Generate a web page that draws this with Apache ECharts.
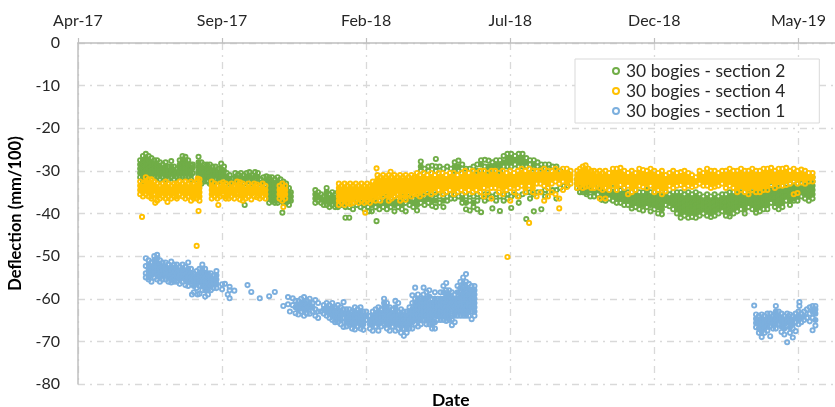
<!DOCTYPE html>
<html>
<head>
<meta charset="utf-8">
<script src="https://cdn.jsdelivr.net/npm/echarts@6/dist/echarts.min.js"></script>
<style>
html, body { margin: 0; padding: 0; background: #fff; }
#chart { width: 835px; height: 407px; }
</style>
</head>
<body>
<div id="chart"></div>
<script>
// x is days since 1 Apr 2017, each row is [day, reading, reading, ...]
const xTickLabels = ['Apr-17', 'Sep-17', 'Feb-18', 'Jul-18', 'Dec-18', 'May-19']
const seriesNames = ['30 bogies - section 2', '30 bogies - section 4', '30 bogies - section 1']

const section2 = [
  [66,-27.5,-28.5,-29.5,-30.5,-31.5],[69,-26.5,-27.5,-28.5,-29.5,-30.5,-31.5,-32.5],[72,-26,-27,-28,-29,-30,-31,-32],[75,-26.5,-27.5,-28.5,-29.5,-30.5,-31.5],
  [78,-27,-28,-29,-30,-31,-32],[81,-27.5,-28.5,-29.5,-30.5,-31.5],[84,-27.5,-28.5,-29.5,-30.5,-31.5],[87,-28,-29,-30,-31,-32],[90,-28.5,-29.5,-30.5,-31.5],
  [93,-28,-29,-30,-31,-32],[96,-29,-30,-31,-32],[99,-27.7,-29,-29.8,-30.6,-31.5],[102,-29,-30,-31,-32],[105,-29.5,-30.5,-31.5],[108,-27.5,-28.5,-29.5,-30.5,-31.5],
  [111,-26.5,-27.5,-28.5,-29.5,-30.5,-31.5],[114,-26.7,-27.5,-28.5,-29.5,-30.5,-31.5],[117,-27.5,-28.5,-29.5,-30.5,-31.5],[120,-28.5,-30,-31,-32],[122,-28.5,-29.2,-30.5],
  [128,-26.7,-28,-29,-30,-31,-32],[131,-28,-29,-30,-31,-32,-33],[134,-28.5,-29.5,-30.5,-31.5,-32.5],[137,-28.5,-29.5,-30.5,-31.5,-32.5],[140,-28.5,-29.5,-30.5,-31.5,-33],
  [143,-29,-30,-31,-32,-33],[146,-29,-30,-31,-32],[149,-29.5,-30.5,-31.5,-32.5],[152,-28.3,-29.5,-30.5,-31.5,-32.5],[155,-29,-30,-31,-32],[158,-30.5,-31.5,-32.5],
  [161,-31,-32,-33],[164,-31.8,-32.8],[167,-30.5,-31.5,-32.5],[170,-30.8,-31.8,-32.8],[173,-30.5,-31.5,-32.5],[176,-31,-32,-33],[179,-30.5,-31.5,-32.5],[182,-30.3,-31.3,-32.3],
  [185,-31,-32,-33],[188,-30.3,-31.3,-32.3],[191,-30.5,-31.5,-32.5],[194,-32,-33],[197,-31.5,-32.5],[200,-31.3,-32.3,-33.3],[203,-31.5,-32.5,-33.5,-34.5,-35.5,-36.5,-37.5],
  [206,-31.5,-32.5,-33.5,-34.5,-35.5,-36.5,-37],[209,-32,-33,-34,-35,-36,-37,-37.5],[212,-31.5,-32.5,-33.5,-34.5,-35.5,-36.5,-37.5],[215,-32,-33,-34,-35,-36,-37],
  [218,-32.5,-33.5,-34.5,-35.5,-36.5,-37.5],[221,-33,-34,-35,-36,-37,-37.5],[224,-34,-35,-36,-37,-38],[226,-35,-36,-37],
  [177,-38],[217,-39.8],[284,-41],[288,-41],[317,-41.8],[309,-39.5],

  [252,-34.5,-35.5,-36.5,-37.5],[255,-35,-36,-37],[258,-35.5,-36.5,-37.5],[261,-36,-37,-38],[264,-34,-35,-36,-37,-38],[267,-35.5,-36.5,-37.5,-38.5],[270,-35,-36,-37,-38],
  [273,-35.5,-36.5,-37.5,-38.5],[276,-35,-36,-37,-38,-38.5],[280,-37,-38],[284,-37.5,-38.5],[288,-37,-38.5],[292,-37.5,-39],[296,-37,-38],[300,-37.5,-38.5],[304,-38,-39],[308,-37.5,-38.5],
  [312,-37,-38,-39.5],[316,-36.5,-37.5,-38.5],[320,-37,-38,-39],[324,-36.5,-37.5,-38.5],[328,-36,-37,-38,-39],[332,-36.5,-37.5,-38.5],[336,-36,-37,-38,-39.5],[340,-36.5,-37.5,-38.5],
  [344,-36,-37,-38,-39],[348,-36.5,-37.5,-39.5],[352,-36,-37,-38],[356,-36.5,-37.5,-38.5],[360,-36,-37,-38,-39.3],[364,-35.5,-36.5,-37.5],[364,-27.8,-29,-30],
  [368,-29.5,-36,-37,-38],[372,-29,-30,-35.5,-36.5,-37.5],[376,-28.8,-36,-37,-38.2],[380,-27.2,-29,-30,-35.5,-37,-38.5],[384,-29,-36,-37.5],[388,-29.5,-35.5,-37,-38.5],
  [392,-29,-36,-37],[396,-29.5,-35.5,-36.5],[400,-28,-29,-30,-35.5,-36.5],[404,-27.6,-29,-30,-36],[408,-28.5,-29.5,-35.5,-36.5,-37.5],[412,-29.5,-36,-37.5,-39],[416,-29.5,-35.5,-37,-39.3],
  [420,-29,-30,-36,-37.5,-38.5],[424,-28.5,-30,-35.5,-37,-39],[428,-27.5,-28.5,-30,-36,-39.7],[432,-27.4,-29,-30,-35.5,-37],[436,-27.6,-29,-30,-35.5,-36.5],[440,-28,-29,-30,-36,-38.8],
  [444,-27.5,-28.7,-30,-35.5,-37],[448,-27.5,-28.7,-30,-36,-39.4],[452,-26.5,-28,-29,-35.5,-37],[456,-26,-27,-28,-29,-35.5,-36.5],[460,-26,-27,-28,-29,-36,-38.7],[464,-26.5,-27.5,-28.5,-35.5],
  [468,-26,-27,-28,-29,-36,-37.5],[472,-26,-27,-28,-29,-35.5],[476,-27,-28,-29,-35,-41.3],[480,-27.5,-28.5,-35,-36.5],[484,-27.5,-28.5,-29.5,-35.5,-39.5],[488,-28,-29,-35],
  [492,-28.5,-29.5,-35,-39],[496,-28.5,-29.5,-34.5,-36],[500,-28.5,-29.5,-35],[504,-29,-34.5],[508,-29,-30,-34.5,-36.5],[512,-30,-34],[516,-30.5,-33.5],[520,-30.5,-33.5],

  [530,-32,-33,-34],[533,-31,-33,-34,-35],[536,-33.5,-34.5,-35],[540,-33,-34,-35,-35.5],[544,-33.5,-34.5,-36],[548,-34,-35,-36],[552,-33.5,-34.5,-35.5],[556,-34,-35,-36,-36.8],
  [560,-34,-35,-36,-37],[564,-34.5,-35.5,-36.5],[568,-34,-35,-36,-37],[572,-34.5,-35.5,-36.5,-37.5],[576,-34.5,-35.5,-36.5,-37.5],[580,-34,-35,-36,-37,-38],[584,-35,-36,-37,-38],
  [588,-35,-36,-37,-38,-38.8],[592,-34.5,-35.5,-36.5,-37.5,-38.5],[596,-35,-36,-37,-38,-39],[600,-35,-36,-37,-38,-39.3],[604,-34.5,-35.5,-36.5,-37.5,-38.5],[608,-35,-36,-37,-38,-39.5],
  [612,-35,-36,-37,-38,-39],[616,-34.5,-35.5,-36.5,-37.5,-38.5,-40],[620,-35,-36,-37,-38,-39,-40.2],[624,-35,-36,-37,-38],[628,-35.5,-36.5,-37.5,-38.3],[632,-35,-36,-37,-38,-39],
  [636,-35,-36,-37,-38,-39,-40],[640,-35,-36,-37,-38,-39,-40,-41],[644,-35.5,-36.5,-37.5,-38.5,-39.5,-40.5],[648,-35,-36,-37,-38,-39,-40,-41],[652,-35.5,-36.5,-37.5,-38.5,-39.5,-40.8],
  [656,-35,-36,-37,-38,-39,-40,-41],[660,-35.5,-36.5,-37.5,-38.5,-39.5,-40.5],[664,-36,-37,-38,-39,-40],[668,-35.5,-36.5,-37.5,-38.5,-39.5,-40.5],[672,-36,-37,-38,-39,-40,-40.8],
  [676,-35.5,-36.5,-37.5,-38.5,-39.5,-40.5],[680,-36,-37,-38,-39,-40],[684,-35.5,-36.5,-37.5,-38.5,-39.5],[688,-35.5,-36.5,-37.5,-38.5,-39.5,-40.5],[692,-35,-36,-37,-38,-39,-40,-40.7],
  [696,-35,-36,-37,-38,-39,-40],[700,-34.5,-35.5,-36.5,-37.5,-38.5,-39.5],[704,-35,-36,-37,-38,-39],[708,-35,-36,-37,-38,-39,-40],[712,-34.5,-35.5,-36.5,-37.5,-38.5],[716,-35,-36,-37,-38,-39],
  [720,-34,-35,-36,-37,-38,-39,-39.8],[724,-34.5,-35.5,-36.5,-37.5,-38.5,-39.5],[728,-34,-35,-36,-37,-38,-39],[732,-34,-35,-36,-37,-38,-39],[736,-33.5,-34.5,-35.5,-36.5,-37.5],[740,-33.5,-34.5,-35.5,-36.5,-37.5,-38.5],
  [744,-33,-34,-35,-36,-37,-38,-39],[748,-33.5,-34.5,-35.5,-36.5,-37.5,-38.5],[752,-33,-34,-35,-36,-37],[756,-33,-34,-35,-36,-37,-38],[760,-32.5,-33.5,-34.5,-35.5,-36.5,-37],[764,-33,-34,-35,-36,-37],
  [768,-33,-34,-35,-36],[772,-32.5,-33.5,-34.5,-35.5,-36.5],[776,-32,-33,-34,-35,-36,-37],[780,-31.5,-32.5,-33.5,-34.5,-35.5,-36.5]
]

const section4 = [
  [66,-32.5,-33.5,-34.5,-35.5],[69,-33,-34,-35,-36],[72,-31.5,-32.5,-33.5,-34.5,-35.5],[75,-32,-33,-34,-35,-36],[78,-32,-33,-34,-35,-36,-36.5],[81,-32.5,-33.5,-34.5,-35.5],
  [84,-33,-34,-35,-36,-37],[87,-33.5,-34.5,-35.5,-36.5],[90,-33,-34,-35,-36],[93,-32.5,-33.5,-34.5,-35.5,-36.5],[96,-33,-34,-35,-36],[99,-33.5,-34.5,-35.5,-36.5],[102,-33,-34,-35,-36],
  [105,-33,-34,-35,-36,-36.5],[108,-32.5,-33.5,-34.5,-35.5],[111,-33,-34,-35,-36],[114,-32.5,-33.5,-34.5,-35.5,-36.5],[117,-33,-34,-35,-36],[120,-32.5,-33.5,-34.5,-35.5,-37],
  [123,-33,-34,-35,-36,-36.5],[126,-32.5,-33.5,-34.5,-35.5,-36.5],[129,-32,-33,-34,-35,-36,-37],
  [142,-32.5,-33.5,-34.5,-35.5,-36.5],[145,-33,-34,-35,-36],[148,-33.5,-34.5,-35.5,-36.5],[151,-33,-34,-35,-36],[154,-32.7,-33.7,-34.7,-35.7],
  [157,-33,-34,-35,-36,-36.5],[160,-33.5,-34.5,-35.5,-36.5],[163,-33,-34,-35,-36],[166,-33.5,-34.5,-35.5,-36.5],[169,-32.5,-33.5,-34.5,-35.5],[172,-32.7,-33.7,-34.7,-35.7,-36.7],
  [175,-33,-34,-35,-36,-37],[178,-33.5,-34.5,-35.5,-36.5],[181,-33,-34,-35,-36],[184,-33.5,-34.5,-35.5,-36.7],[187,-33,-34,-35,-36],[190,-33.2,-34.2,-35.2,-36.2],[193,-33.5,-34.5,-35.5,-36.5],
  [196,-33,-34,-35,-36],[199,-33.5,-34.5,-35.5,-36.5],
  [214,-33.5,-34.5,-35.5,-36.5],[217,-33,-34,-35,-36,-37],[220,-33.5,-34.5,-35.5,-36.5],
  [68,-40.8],[128,-39.4],[82,-37.5],[95,-37.3],[149,-38],[218,-38.5],[127,-31.8],[126,-47.6],[456,-50.2],[305,-39.8],[317,-29.4],[332,-30.2],

  [277,-33,-34,-35,-36,-37,-38],[280,-33.5,-34.5,-35.5,-36.5,-37.5],[283,-33,-34,-35,-36,-37,-38],[286,-33.5,-34.5,-35.5,-36.5,-37.5],[289,-33,-34,-35,-36,-37,-37.8],[292,-33.5,-34.5,-35.5,-36.5,-37.5],
  [295,-33,-34,-35,-36,-37],[298,-33.5,-34.5,-35.5,-36.5,-37.5],[301,-33,-34,-35,-36,-37],[304,-33.5,-34.5,-35.5,-36.5,-37.5],[307,-33,-34,-35,-36,-37],[310,-33.5,-34.5,-35.5,-36.5,-37.5],
  [313,-32.5,-33.5,-34.5,-35.5,-36.5],[316,-33,-34,-35,-36,-37],[318,-31,-32,-33,-34,-35,-36],[321,-31.5,-32.5,-33.5,-34.5,-35.5,-37],[324,-31,-32,-33,-34,-35,-36],
  [327,-31.5,-32.5,-33.5,-34.5,-35.5],[330,-31,-32,-33,-34,-35,-36,-37],[333,-31.5,-32.5,-33.5,-34.5,-35.5,-36.5],[336,-31,-32,-33,-34,-35,-36],[339,-31.5,-32.5,-33.5,-34.5,-35.5],
  [342,-31,-32,-33,-34,-35,-36,-37],[345,-31.5,-32.5,-33.5,-34.5,-35.5],[348,-31,-32,-33,-34,-35,-36,-36.8],[351,-31.5,-32.5,-33.5,-34.5,-35.5],[354,-31,-32,-33,-34,-35,-36],[357,-31.5,-32.5,-33.5,-34.5,-35.5],
  [360,-30.5,-31.5,-32.5,-33.5,-34.5,-35.5],[363,-31,-32,-33,-34,-35,-36],[367,-30.5,-31.5,-32.5,-33.5,-34.5,-35.5],[371,-31,-32,-33,-34,-35],[375,-30.5,-31.5,-32.5,-33.5,-34.5,-35.5],
  [379,-31,-32,-33,-34,-35],[383,-30.5,-31.5,-32.5,-33.5,-34.5],[387,-30.5,-31.5,-32.5,-33.5,-34.5,-35.5],[391,-31,-32,-33,-34,-35],[395,-30.5,-31.5,-32.5,-33.5,-34.5],[399,-30.5,-31.5,-32.5,-33.5,-34.5,-35.5],
  [403,-31,-32,-33,-34,-35],[407,-30.5,-31.5,-32.5,-33.5,-34.5],[411,-30,-31,-32,-33,-34,-35],[415,-30.5,-31.5,-32.5,-33.5,-34.5],[419,-30,-31,-32,-33,-34,-35],[423,-30.5,-31.5,-32.5,-33.5,-34.5],
  [427,-30,-31,-32,-33,-34,-35],[431,-30,-31,-32,-33,-34,-36],[435,-30.5,-31.5,-32.5,-33.5,-35],[439,-30,-31,-32,-33,-34,-36.5],[443,-30,-31,-32,-33,-34],[447,-30.5,-31.5,-32.5,-33.5,-35],
  [451,-30,-31,-32,-33,-34,-35.5],[455,-30.5,-31.5,-32.5,-33.5,-34.5],[459,-30,-31,-32,-33,-34,-37],[463,-30.5,-31.5,-32.5,-33.5,-35],[467,-30,-31,-32,-33,-34,-36],[471,-29.5,-30.5,-31.5,-32.5,-33.5],
  [475,-30,-31,-32,-33,-34,-35],[479,-29.5,-30.5,-31.5,-32.5,-33.5,-42.2],[483,-30,-31,-32,-33,-34,-35],[487,-30,-31,-32,-33,-36],[491,-30,-31,-32,-33,-35],[495,-29.5,-30.5,-31.5,-32.5,-33.5,-37],
  [499,-30,-31,-32,-33,-34,-36],[503,-30,-31,-32,-33,-35],[507,-29.5,-30.5,-31.5,-32.5,-35.5],[511,-30,-31,-32,-33,-36.5,-38.8],[515,-29.5,-30.5,-31.5,-32.5,-34.5],[519,-29.5,-30.5,-31.5,-32.5,-33.8],[523,-30,-31,-32,-33],

  [530,-30,-31,-32,-33,-34],[533,-29.5,-30.5,-31.5,-32.5,-33.5],[536,-29,-30,-31,-32,-33,-34],[539,-28.7,-29.7,-30.7,-31.7,-32.7,-33.7],[542,-29.5,-30.5,-31.5,-32.5,-33.5],[545,-30,-31,-32,-33,-34],
  [548,-30,-31,-32,-33,-34],[551,-30.5,-31.5,-32.5,-33.5],[554,-30,-31,-32,-33,-34,-36.5],[557,-30.5,-31.5,-32.5,-33.5,-34.5],[560,-30,-31,-32,-33,-34,-36.5],[564,-30.5,-31.5,-32.5,-33.5,-34.5],
  [568,-29.5,-30.5,-31.5,-32.5,-33.5],[572,-29.5,-30.5,-31.5,-32.5,-33.5,-34.5],[576,-29.3,-30.3,-31.3,-32.3,-33.3],[580,-30,-31,-32,-33,-34],[584,-30.5,-31.5,-32.5,-33.5,-35.5],[588,-30,-31,-32,-33,-34,-35],
  [592,-30.5,-31.5,-32.5,-33.5,-34.5],[596,-29.5,-30.5,-31.5,-32.5,-33.5],[600,-29.8,-30.8,-31.8,-32.8,-33.8],[604,-30,-31,-32,-33,-34],[608,-29.5,-30.5,-31.5,-32.5,-33.5],[612,-30,-31,-32,-33,-34,-35],
  [616,-30.5,-31.5,-32.5,-33.5,-34.5],[620,-30,-31,-32,-33,-34,-35.5],[624,-31,-32,-33,-34,-34.8],[628,-30.5,-31.5,-32.5,-33.5],[632,-30,-31,-32,-33,-34],[636,-30.5,-31.5,-32.5,-33.5],[640,-30.3,-31.3,-32.3,-33.3],
  [644,-30,-31,-32,-33,-34],[648,-30.5,-31.5,-32.5,-33.5],[652,-31,-32,-33,-33.8],[656,-31.5,-32.5,-33.5],[660,-30,-31,-32,-33],[664,-30.5,-31.5,-32.5,-33.5],[668,-29.5,-30.5,-31.5,-32.5,-33.5],
  [672,-30,-31,-32,-33,-34],[676,-30,-31,-32,-33,-33.7],[680,-30.5,-31.5,-32.5,-33.5],[684,-30,-31,-32,-33],[688,-30,-31,-32,-33,-34],[692,-29.5,-30.5,-31.5,-32.5,-33.5],[696,-30,-31,-32,-33,-34],
  [700,-30,-31,-32,-33,-34,-35],[704,-29.5,-30.5,-31.5,-32.5,-33.5,-34.5],[708,-30,-31,-32,-33,-34,-35],[712,-30,-31,-32,-33,-34,-35.5],[716,-29.5,-30.5,-31.5,-32.5,-33.5,-34.5],[720,-30,-31,-32,-33,-34,-35],
  [724,-30,-31,-32,-33,-34,-35],[728,-29.5,-30.5,-31.5,-32.5,-33.5,-34.5],[732,-29.5,-30.5,-31.5,-32.5,-33.5,-34.5],[736,-29.3,-30.3,-31.3,-32.3,-33.3],[740,-30,-31,-32,-33,-34],[744,-29.5,-30.5,-31.5,-32.5,-33.5],
  [748,-29.5,-30.5,-31.5,-32.5,-33.5],[752,-29.3,-30.3,-31.3,-32.3,-33.3],[756,-30,-31,-32,-33],[760,-29.5,-30.5,-31.5,-32.5,-35.5],[764,-30,-31,-32,-33,-35.2],[768,-29.7,-30.7,-31.7,-32.7],[772,-30,-31,-32,-33],
  [776,-30.5,-31.5,-32.5],[780,-30.5,-31.5,-32.5]
]

const section1 = [
  [72,-50.5,-52.3,-54,-55],[75,-51,-52,-53,-54,-55,-55.5],[78,-51.5,-52.5,-53.5,-54.5,-56],[81,-50,-51,-52,-53,-54,-55],[84,-49.7,-50.5,-51.5,-52.5,-53.5,-54.5,-55.5],[87,-51,-52,-53,-54,-55,-56],
  [90,-51.5,-52.5,-53.5,-54.5,-55.5],[93,-51.5,-52.5,-53.5,-54.5,-55.5],[96,-52,-53,-54,-55,-56],[99,-51.3,-52.5,-53.5,-54.5,-55.5,-56.2],[102,-52,-53,-54,-55,-56],[105,-52,-53,-54,-55,-56],
  [108,-52.5,-53.5,-54.5,-55.5,-56.5],[111,-52,-53,-54,-55,-56],[114,-52.5,-53.5,-54.5,-55.5,-56.8],[117,-51.5,-53,-54,-55,-56,-57],[120,-53,-54,-55,-56],[123,-54,-55,-56,-57,-58.5],
  [126,-53.5,-54.5,-55.5,-56.5,-57.5],[129,-53,-54,-55,-56,-57,-58.8],[132,-52,-53,-54,-55,-56,-57,-58],[135,-53,-54,-55,-56,-57,-58,-59.5],[138,-54,-55,-56,-57,-58,-59],[141,-54,-55,-56,-57,-58],
  [144,-54.5,-55.5,-56.5,-57.5],[147,-53.5,-54.5,-55.5,-56.5,-57.5],[121,-59],[127,-59],
  [153,-56.6,-57.8],[156,-56.5],[161,-57.2,-58],[159,-59],[161,-59.9],[166,-58.1],[180,-56.8],[184,-58.4],[193,-59.9],[203,-59.4],[209,-58.4],

  [218,-61.7],[223,-59.6,-61.3],[225,-63],[228,-59.9,-61.5],[231,-60.5,-62,-63.4],[234,-60.5,-61.5,-62.5,-63.7],[237,-60,-61,-62,-63],[240,-59.6,-60.6,-61.6,-62.6,-64],[243,-60.5,-61.5,-62.5,-63.5],
  [246,-60,-61,-62,-63.5],[249,-61,-62,-63],[252,-60.3,-62.5,-64],[255,-61,-63,-64.5],[258,-63],[261,-61.5,-62.5,-63.5],[264,-61,-62,-63,-64],[267,-61.5,-62.5,-63.5,-64.5],[270,-61,-62,-63,-64,-65],
  [273,-62,-63,-64,-65,-65.5],[276,-61.5,-62.5,-63.5,-64.5,-65.5],[279,-62,-63,-64,-65,-66],[282,-60.8,-62.5,-63.5,-64.5,-66.6],[285,-62.5,-63.5,-64.5,-65.5,-66.5],[288,-62.5,-63.5,-64.5,-65.5,-66],
  [291,-63,-64,-65,-66,-67],[294,-62,-63,-64,-65,-66,-67.2],[297,-62.5,-63.5,-64.5,-65.5,-66.5],[300,-62,-63,-64,-65,-66,-67],[303,-63,-64,-65,-66,-67.3],[306,-63,-64,-65],
  [310,-64,-65,-66,-67],[313,-63,-64,-65,-66,-67.5],[316,-62.5,-63.5,-64.5,-65.5,-66.5],[319,-62,-63,-64,-65,-66,-67.5],[322,-62.5,-63.5,-64.5,-65.5,-66.5],[325,-60,-61,-62,-63,-64,-65,-66],[328,-61,-62,-63,-64,-65,-66,-67],
  [331,-62,-63,-64,-65,-66,-67.5],[334,-62.5,-63.5,-64.5,-65.5,-66.5],[337,-60.5,-62,-63,-64,-65,-66,-67.5],[340,-61,-63,-64,-65,-66,-67],[343,-62.5,-63.5,-64.5,-65.5,-66.5,-68],[346,-63,-64,-65,-66,-67,-68.7],
  [349,-63,-64,-65,-66,-67,-68],[352,-62,-63,-64,-65,-66,-67],[355,-59.2,-61,-62.5,-63.5,-64.5,-65.5,-67],[358,-57.4,-60,-61,-62,-63,-64,-65,-66],[361,-59,-60,-61,-62,-63,-64,-65,-66.5],[364,-60,-61,-62,-63,-64,-65,-66],
  [367,-57.4,-59,-60,-61,-62,-63,-64,-65],[370,-58.5,-60,-61,-62,-63,-64,-65,-66],[373,-58,-59.5,-61,-62,-63,-64,-65,-66],[376,-60,-61,-62,-63,-64,-65,-66,-67],[379,-58.5,-60,-61,-62,-63,-64,-65.5,-67],
  [382,-60,-61,-62,-63,-64,-65],[385,-58.5,-60,-61,-62,-63,-64,-65],[388,-57,-58.5,-60,-61,-62,-63,-64,-65],[391,-56.3,-58,-59,-60,-61,-62,-63,-64,-65.2],[394,-58,-59,-60,-61,-62,-63,-64,-65],
  [397,-58.5,-60,-61,-62,-63,-65,-66.2],[400,-59,-60,-61,-62,-63,-64,-65.5],[403,-57,-58.5,-60,-61,-62,-63,-64],[406,-56,-57.5,-59,-60,-61,-62,-63,-64],[409,-55,-56.5,-58,-59,-60,-61,-62,-63,-64],[412,-54.2,-56,-57.5,-59,-60,-61,-62,-63,-64],
  [415,-56.5,-58,-59,-60,-61,-62,-63,-64],[418,-57,-58,-59,-60,-61,-62,-63,-64.8],[421,-57,-58,-59,-60,-61,-62,-63,-64],

  [718,-61.6],[720,-63.7,-64.7,-65.7,-66.7],[723,-64,-65,-66,-67,-68],[726,-63.7,-64.7,-65.7,-66.7,-67.7,-69],[729,-64,-65,-66,-67,-68],[732,-63.5,-64.5,-65.5,-66.5,-67.5],[735,-63.5,-64.5,-65.5,-66.5,-68.8],
  [738,-64,-65,-66,-67],[741,-61.7,-63,-64,-65,-66,-67],[744,-63,-64,-65,-66],[747,-63.5,-64.5,-65.5,-66.5,-67.8],[750,-64,-65,-66,-67,-68.4],[753,-63.5,-64.5,-65.5,-66.5,-70.2],[756,-63.7,-64.7,-65.7,-66.7,-68],
  [759,-64,-65,-66,-67,-69.1],[762,-63.5,-64.5,-65.5,-67.6],[765,-63,-64,-65,-66],[768,-63.5,-64.5,-65.5],[771,-63,-64,-65],[766,-60.8,-61.7],[774,-62.5,-64.5],[777,-62,-63.5,-65.3],[780,-61.7,-63,-64.5,-67.4],[783,-61.7,-62.5,-63.5,-65,-66.3]
]

// a reading packed between two close neighbours sits in a solid clump, so it is drawn filled
function toPoints (rows, color) {
  let points = []
  rows.forEach(row => {
    let vals = row.slice(1)
    vals.forEach((v, i) => {
      let packed = i > 0 && i < vals.length - 1 && vals[i - 1] - v < 1.6 && v - vals[i + 1] < 1.6
      points.push(packed ? { value: [row[0], v], itemStyle: { color: color } } : [row[0], v])
    })
  })
  return points
}

const fontFamily = 'Lato, "Noto Sans", sans-serif'
const colors = ['#70ad47', '#ffc000', '#7cafde']

function ringSeries (name, rows, color) {
  return {
    name: name,
    type: 'scatter',
    data: toPoints(rows, color),
    symbol: 'circle',
    symbolSize: 4.2,
    progressive: 0,
    itemStyle: {
      color: 'rgba(255,255,255,0)',
      borderColor: color,
      borderWidth: 1.9,
      opacity: 1
    }
  }
}

const chart = echarts.init(document.getElementById('chart'), null, { renderer: 'canvas' })
chart.setOption({
  animation: false,
  backgroundColor: '#fff',
  textStyle: { fontFamily: fontFamily },
  title: {
    text: 'Date',
    left: 432,
    top: 391,
    padding: 0,
    textStyle: { color: '#000', fontFamily: fontFamily, fontSize: 17.5, fontWeight: 'bold' }
  },
  legend: {
    orient: 'vertical',
    left: 575,
    top: 59,
    padding: [2, 34, 2, 37],
    itemGap: 0,
    itemWidth: 6,
    itemHeight: 6,
    icon: 'circle',
    backgroundColor: '#fff',
    borderColor: '#d9d9d9',
    borderWidth: 1,
    data: seriesNames,
    textStyle: { color: '#262626', fontFamily: fontFamily, fontSize: 17.4, lineHeight: 20, padding: [0, 0, 0, 2] }
  },
  grid: { left: 78, top: 43, width: 760, bottom: 23, outerBoundsMode: 'none' },
  xAxis: {
    type: 'value',
    position: 'top',
    min: 0,
    max: 807,
    interval: 153,
    axisLine: { onZero: false, lineStyle: { color: '#bfbfbf', width: 1.5 } },
    axisTick: { show: true, inside: false, length: 5, lineStyle: { color: '#bfbfbf', width: 1.2 } },
    axisLabel: {
      margin: 14,
      color: '#262626',
      fontSize: 16,
      fontFamily: fontFamily,
      formatter: v => xTickLabels[v / 153] || ''
    },
    splitLine: { show: true, lineStyle: { color: '#d9d9d9', width: 1.3, type: [7, 5, 2, 5] } }
  },
  yAxis: {
    type: 'value',
    min: -80,
    max: 0,
    interval: 10,
    name: 'Deflection (mm/100)',
    nameLocation: 'middle',
    nameGap: 47,
    nameTextStyle: { color: '#000', fontFamily: fontFamily, fontSize: 16.5, fontWeight: 'bold' },
    axisLine: { show: true, lineStyle: { color: '#bfbfbf', width: 1.5 } },
    axisTick: { show: false },
    axisLabel: { margin: 18, color: '#262626', fontSize: 16, fontFamily: fontFamily },
    splitLine: { show: true, lineStyle: { color: '#d9d9d9', width: 1.3, type: [7, 5, 2, 5] } }
  },
  series: [
    ringSeries(seriesNames[0], section2, colors[0]),
    ringSeries(seriesNames[1], section4, colors[1]),
    ringSeries(seriesNames[2], section1, colors[2])
  ]
})
</script>
</body>
</html>
